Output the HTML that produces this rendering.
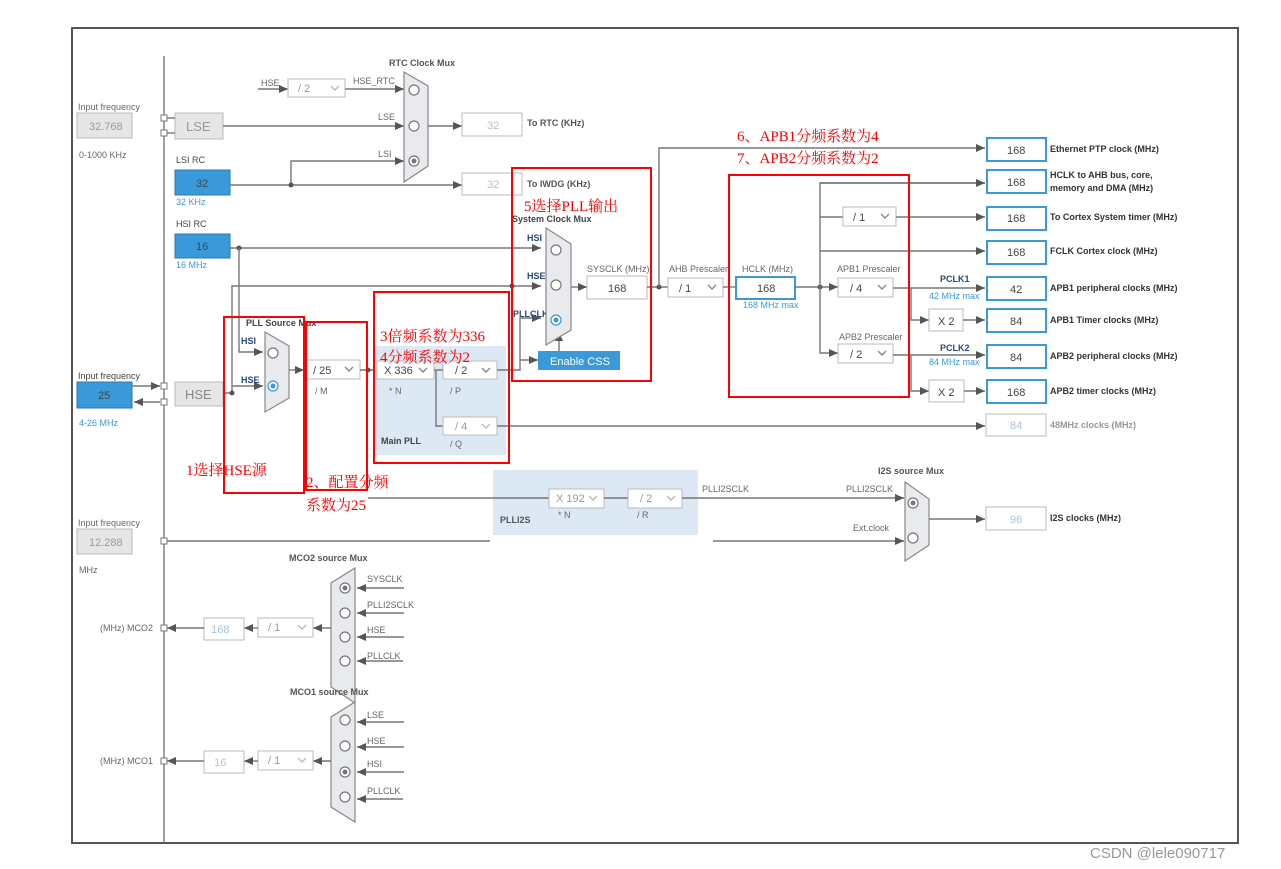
<!DOCTYPE html>
<html><head><meta charset="utf-8"><style>
html,body{margin:0;padding:0;background:#fff;width:1281px;height:869px;overflow:hidden}
svg{display:block}
text{font-family:"Liberation Sans","Noto Sans CJK SC",sans-serif}
.l{font-size:9px;fill:#666}
.b{font-size:9px;fill:#555;font-weight:bold}
.bk{font-size:9px;fill:#333;font-weight:bold}
.v{font-size:11px;fill:#444}
.lv{font-size:11px;fill:#aac4dc}
.bl{font-size:9px;fill:#3a9ad9}
.r{font-family:"Liberation Serif","Noto Serif CJK SC",serif;font-size:15px;fill:#f00}
line,polyline,path.w{stroke:#777;stroke-width:1.4;fill:none}
.dd{fill:#fff;stroke:#bbb}
.bx{fill:#fff;stroke:#bbb}
.bb{fill:#fff;stroke:#3a9ad9;stroke-width:2}
.mux{fill:#e8eaed;stroke:#888;stroke-width:1.2}
.c{fill:#fff;stroke:#777;stroke-width:1.2}
.red{fill:none;stroke:#f00;stroke-width:2}
</style></head><body>
<svg width="1281" height="869" viewBox="0 0 1281 869" xmlns="http://www.w3.org/2000/svg">
<defs>
<marker id="a" markerWidth="9" markerHeight="8" refX="9" refY="4" orient="auto" markerUnits="userSpaceOnUse"><path d="M0,0L9,4L0,8z" fill="#555"/></marker>
</defs>
<rect x="72" y="28" width="1166" height="815" fill="none" stroke="#555" stroke-width="2"/>
<line x1="164" y1="56" x2="164" y2="843"/>

<!-- left inputs -->
<text class="l" x="78" y="110">Input frequency</text>
<rect x="77" y="113" width="55" height="25" fill="#e4e6e8" stroke="#bbb"/>
<text class="v" x="89" y="130" fill="#999" style="fill:#999">32.768</text>
<text class="l" x="79" y="158">0-1000 KHz</text>
<rect x="175" y="113" width="48" height="26" fill="#e4e6e8" stroke="#bbb"/>
<text x="186" y="131" style="font-size:13px;fill:#999">LSE</text>
<rect x="161" y="115" width="6" height="6" fill="#fff" stroke="#777"/>
<rect x="161" y="130" width="6" height="6" fill="#fff" stroke="#777"/>
<line x1="167" y1="118" x2="175" y2="118"/><line x1="167" y1="133" x2="175" y2="133"/>

<text class="l" x="176" y="163" style="fill:#444">LSI RC</text>
<rect x="175" y="170" width="55" height="25" fill="#3a9ad9" stroke="#2a7ab0"/>
<text class="v" x="196" y="187">32</text>
<text class="bl" x="176" y="205">32 KHz</text>
<text class="l" x="176" y="227" style="fill:#444">HSI RC</text>
<rect x="175" y="234" width="55" height="24" fill="#3a9ad9" stroke="#2a7ab0"/>
<text class="v" x="196" y="250">16</text>
<text class="bl" x="176" y="268">16 MHz</text>

<text class="l" x="78" y="379" style="fill:#444">Input frequency</text>
<rect x="77" y="382" width="55" height="26" fill="#3a9ad9" stroke="#2a7ab0"/>
<text class="v" x="98" y="399">25</text>
<text class="bl" x="79" y="426">4-26 MHz</text>
<line x1="132" y1="386" x2="160" y2="386" marker-end="url(#a)"/>
<line x1="160" y1="402" x2="134" y2="402" marker-end="url(#a)"/>
<rect x="161" y="383" width="6" height="6" fill="#fff" stroke="#777"/>
<rect x="161" y="399" width="6" height="6" fill="#fff" stroke="#777"/>
<rect x="175" y="382" width="48" height="24" fill="#e4e6e8" stroke="#bbb"/>
<text x="185" y="399" style="font-size:13px;fill:#888">HSE</text>

<text class="l" x="78" y="526">Input frequency</text>
<rect x="77" y="529" width="55" height="25" fill="#e4e6e8" stroke="#bbb"/>
<text class="v" x="89" y="546" style="fill:#999">12.288</text>
<text class="l" x="79" y="573">MHz</text>

<!-- RTC -->
<text class="b" x="389" y="66">RTC Clock Mux</text>
<text class="l" x="261" y="86">HSE</text>
<line x1="258" y1="89" x2="288" y2="89" marker-end="url(#a)"/>
<rect class="dd" x="288" y="79" width="57" height="18"/><text class="v" x="298" y="92" style="fill:#999">/ 2</text><polyline points="331,86 335,90 339,86" style="stroke:#bbb"/>
<text class="l" x="353" y="84">HSE_RTC</text>
<line x1="345" y1="89" x2="404" y2="89" marker-end="url(#a)"/>
<text class="l" x="378" y="120">LSE</text>
<line x1="223" y1="126" x2="404" y2="126" marker-end="url(#a)"/>
<text class="l" x="378" y="157">LSI</text>
<polyline points="291,185 291,161 404,161" marker-end="url(#a)"/>
<path class="mux" d="M404,72 L428,86 L428,166 L404,182 Z"/>
<circle class="c" cx="414" cy="90" r="5"/><circle class="c" cx="414" cy="126" r="5"/><circle class="c" cx="414" cy="161" r="5"/><circle cx="414" cy="161" r="2.5" fill="#777"/>
<line x1="428" y1="126" x2="462" y2="126" marker-end="url(#a)"/>
<rect class="bx" x="462" y="113" width="60" height="23"/><text class="lv" x="487" y="129">32</text>
<text class="b" x="527" y="126">To RTC (KHz)</text>
<line x1="230" y1="185" x2="462" y2="185" marker-end="url(#a)"/>
<circle cx="291" cy="185" r="2.5" fill="#555"/>
<rect class="bx" x="462" y="173" width="60" height="22"/><text class="lv" x="487" y="188">32</text>
<text class="b" x="527" y="187">To IWDG (KHz)</text>

<!-- HSI / HSE routing -->
<line x1="230" y1="248" x2="541" y2="248" marker-end="url(#a)"/>
<circle cx="239" cy="248" r="2.5" fill="#555"/>
<polyline points="239,248 239,352 263,352" marker-end="url(#a)"/>
<polyline points="223,393 232,393 232,286 541,286" marker-end="url(#a)"/>
<circle cx="232" cy="393" r="2.5" fill="#555"/>
<line x1="232" y1="386" x2="263" y2="386" marker-end="url(#a)"/>
<circle cx="512" cy="286" r="2.5" fill="#555"/>

<!-- PLL source mux -->
<text class="b" x="246" y="326" style="fill:#444">PLL Source Mux</text>
<text class="bk" x="241" y="344" style="fill:#2a4a7a">HSI</text>
<text class="bk" x="241" y="383" style="fill:#2a4a7a">HSE</text>
<path class="mux" d="M265,332 L289,346 L289,398 L265,412 Z"/>
<circle class="c" cx="273" cy="353" r="5"/><circle class="c" cx="273" cy="386" r="5" style="stroke:#3a9ad9"/><circle cx="273" cy="386" r="2.5" fill="#3a9ad9"/>
<line x1="289" y1="370" x2="304" y2="370" marker-end="url(#a)"/>
<rect class="dd" x="304" y="360" width="56" height="19"/><text class="v" x="313" y="374">/ 25</text><polyline points="345,367 349,371 353,367" style="stroke:#888"/>
<text class="l" x="315" y="394">/ M</text>
<line x1="360" y1="370" x2="377" y2="370"/>
<circle cx="368" cy="370" r="2.5" fill="#555"/>

<!-- Main PLL -->
<rect x="375" y="346" width="131" height="109" fill="#dce8f4"/>
<rect class="dd" x="377" y="361" width="57" height="18"/><text class="v" x="384" y="374">X 336</text><polyline points="419,368 423,372 427,368" style="stroke:#888"/>
<text class="l" x="389" y="394">* N</text>
<rect class="dd" x="443" y="361" width="54" height="18"/><text class="v" x="455" y="374">/ 2</text><polyline points="482,368 486,372 490,368" style="stroke:#888"/>
<text class="l" x="450" y="394">/ P</text>
<line x1="434" y1="370" x2="443" y2="370"/>
<polyline points="436,370 436,426 443,426"/>
<rect class="dd" x="443" y="417" width="54" height="18"/><text class="v" x="455" y="430" style="fill:#999">/ 4</text><polyline points="482,424 486,428 490,424" style="stroke:#bbb"/>
<text class="l" x="450" y="447">/ Q</text>
<text class="b" x="381" y="444" style="fill:#444">Main PLL</text>
<line x1="497" y1="426" x2="985" y2="426" marker-end="url(#a)"/>
<rect class="bx" x="986" y="414" width="60" height="22"/><text class="lv" x="1010" y="429">84</text>
<text class="b" x="1050" y="428" style="fill:#999">48MHz clocks (MHz)</text>

<polyline points="497,370 520,370 520,318 541,318" marker-end="url(#a)"/>
<polyline points="520,360 538,360" marker-end="url(#a)"/>
<rect x="538" y="351" width="82" height="19" fill="#3a9ad9"/>
<text x="550" y="365" style="font-size:11px;fill:#fff">Enable CSS</text>
<line x1="559" y1="351" x2="559" y2="332" marker-end="url(#a)"/>

<!-- System clock mux -->
<text class="b" x="512" y="222" style="fill:#444">System Clock Mux</text>
<text class="bk" x="527" y="241" style="fill:#2a4a7a">HSI</text>
<text class="bk" x="527" y="279" style="fill:#2a4a7a">HSE</text>
<text class="bk" x="513" y="317" style="fill:#2a4a7a">PLLCLK</text>
<path class="mux" d="M546,228 L571,244 L571,330 L546,345 Z"/>
<circle class="c" cx="556" cy="250" r="5"/><circle class="c" cx="556" cy="285" r="5"/><circle class="c" cx="556" cy="320" r="5" style="stroke:#3a9ad9"/><circle cx="556" cy="320" r="2.5" fill="#3a9ad9"/>
<line x1="571" y1="287" x2="587" y2="287" marker-end="url(#a)"/>
<text class="l" x="587" y="272">SYSCLK (MHz)</text>
<rect class="bx" x="587" y="276" width="60" height="23"/><text class="v" x="608" y="292">168</text>
<line x1="647" y1="287" x2="668" y2="287"/>
<circle cx="659" cy="287" r="2.5" fill="#555"/>
<polyline points="659,287 659,148 985,148" marker-end="url(#a)"/>
<text class="l" x="669" y="272">AHB Prescaler</text>
<rect class="dd" x="668" y="278" width="55" height="19"/><text class="v" x="679" y="292">/ 1</text><polyline points="708,285 712,289 716,285" style="stroke:#888"/>
<line x1="723" y1="287" x2="736" y2="287"/>
<text class="l" x="742" y="272">HCLK (MHz)</text>
<rect class="bb" x="736" y="277" width="59" height="22"/><text class="v" x="757" y="292">168</text>
<text class="bl" x="743" y="308">168 MHz max</text>
<line x1="795" y1="287" x2="838" y2="287" marker-end="url(#a)"/>
<circle cx="820" cy="287" r="2.5" fill="#555"/>
<polyline points="985,183 820,183 820,353 838,353" marker-end="url(#a)"/>
<line x1="820" y1="183" x2="985" y2="183" marker-end="url(#a)"/>
<line x1="820" y1="217" x2="843" y2="217"/>
<rect class="dd" x="843" y="207" width="53" height="19"/><text class="v" x="853" y="221">/ 1</text><polyline points="881,214 885,218 889,214" style="stroke:#888"/>
<line x1="896" y1="217" x2="985" y2="217" marker-end="url(#a)"/>
<line x1="820" y1="251" x2="985" y2="251" marker-end="url(#a)"/>
<text class="l" x="837" y="272">APB1 Prescaler</text>
<rect class="dd" x="838" y="278" width="55" height="19"/><text class="v" x="850" y="292">/ 4</text><polyline points="878,285 882,289 886,285" style="stroke:#888"/>
<text class="l" x="839" y="340">APB2 Prescaler</text>
<rect class="dd" x="838" y="344" width="55" height="19"/><text class="v" x="850" y="358">/ 2</text><polyline points="878,351 882,355 886,351" style="stroke:#888"/>
<line x1="893" y1="288" x2="985" y2="288" marker-end="url(#a)"/>
<text class="bk" x="940" y="282" style="fill:#2a4a7a">PCLK1</text>
<text class="bl" x="929" y="299">42 MHz max</text>
<polyline points="911,288 911,320 929,320" marker-end="url(#a)"/>
<rect class="bx" x="929" y="309" width="34" height="22"/><text class="v" x="938" y="325">X 2</text>
<line x1="963" y1="320" x2="985" y2="320" marker-end="url(#a)"/>
<line x1="893" y1="355" x2="985" y2="355" marker-end="url(#a)"/>
<text class="bk" x="940" y="351" style="fill:#2a4a7a">PCLK2</text>
<text class="bl" x="929" y="365">84 MHz max</text>
<polyline points="911,355 911,391 929,391" marker-end="url(#a)"/>
<rect class="bx" x="929" y="380" width="35" height="22"/><text class="v" x="938" y="396">X 2</text>
<line x1="964" y1="391" x2="985" y2="391" marker-end="url(#a)"/>

<!-- right outputs -->
<rect class="bb" x="987" y="138" width="59" height="23"/><text class="v" x="1007" y="154">168</text>
<text class="b" x="1050" y="152" style="fill:#333">Ethernet PTP clock (MHz)</text>
<rect class="bb" x="987" y="170" width="59" height="23"/><text class="v" x="1007" y="186">168</text>
<text class="b" x="1050" y="178" style="fill:#333">HCLK to AHB bus, core,</text>
<text class="b" x="1050" y="191" style="fill:#333">memory and DMA (MHz)</text>
<rect class="bb" x="987" y="207" width="59" height="23"/><text class="v" x="1007" y="222">168</text>
<text class="b" x="1050" y="220" style="fill:#333">To Cortex System timer (MHz)</text>
<rect class="bb" x="987" y="241" width="59" height="23"/><text class="v" x="1007" y="256">168</text>
<text class="b" x="1050" y="254" style="fill:#333">FCLK Cortex clock (MHz)</text>
<rect class="bb" x="987" y="277" width="59" height="23"/><text class="v" x="1010" y="293">42</text>
<text class="b" x="1050" y="291" style="fill:#333">APB1 peripheral clocks (MHz)</text>
<rect class="bb" x="987" y="309" width="59" height="23"/><text class="v" x="1010" y="325">84</text>
<text class="b" x="1050" y="323" style="fill:#333">APB1 Timer clocks (MHz)</text>
<rect class="bb" x="987" y="345" width="59" height="23"/><text class="v" x="1010" y="361">84</text>
<text class="b" x="1050" y="359" style="fill:#333">APB2 peripheral clocks (MHz)</text>
<rect class="bb" x="987" y="380" width="59" height="23"/><text class="v" x="1007" y="396">168</text>
<text class="b" x="1050" y="394" style="fill:#333">APB2 timer clocks (MHz)</text>

<!-- PLLI2S -->
<rect x="493" y="470" width="205" height="65" fill="#dce8f4"/>
<line x1="368" y1="498" x2="549" y2="498"/>
<rect class="dd" x="549" y="489" width="55" height="19"/><text class="v" x="556" y="502" style="fill:#999">X 192</text><polyline points="589,496 593,500 597,496" style="stroke:#bbb"/>
<text class="l" x="558" y="518">* N</text>
<line x1="604" y1="498" x2="628" y2="498"/>
<rect class="dd" x="628" y="489" width="54" height="19"/><text class="v" x="640" y="502" style="fill:#999">/ 2</text><polyline points="667,496 671,500 675,496" style="stroke:#bbb"/>
<text class="l" x="637" y="518">/ R</text>
<text class="b" x="500" y="523">PLLI2S</text>
<line x1="682" y1="498" x2="904" y2="498" marker-end="url(#a)"/>
<text class="l" x="702" y="492">PLLI2SCLK</text>
<text class="l" x="846" y="492">PLLI2SCLK</text>
<text class="b" x="878" y="474">I2S source Mux</text>
<text class="l" x="853" y="531">Ext.clock</text>
<line x1="713" y1="541" x2="904" y2="541" marker-end="url(#a)"/>
<line x1="164" y1="541" x2="490" y2="541"/>
<rect x="161" y="538" width="6" height="6" fill="#fff" stroke="#777"/>
<path class="mux" d="M905,482 L929,499 L929,545 L905,561 Z"/>
<circle class="c" cx="913" cy="503" r="5"/><circle cx="913" cy="503" r="2.5" fill="#777"/><circle class="c" cx="913" cy="538" r="5"/>
<line x1="929" y1="519" x2="985" y2="519" marker-end="url(#a)"/>
<rect class="bx" x="986" y="507" width="60" height="23"/><text class="lv" x="1010" y="523">96</text>
<text class="b" x="1050" y="521" style="fill:#333">I2S clocks (MHz)</text>

<!-- MCO2 -->
<text class="b" x="289" y="561">MCO2 source Mux</text>
<path class="mux" d="M355,568 L355,703 L331,687 L331,583 Z"/>
<circle class="c" cx="345" cy="588" r="5"/><circle cx="345" cy="588" r="2.5" fill="#777"/>
<circle class="c" cx="345" cy="613" r="5"/><circle class="c" cx="345" cy="637" r="5"/><circle class="c" cx="345" cy="661" r="5"/>
<text class="l" x="367" y="582">SYSCLK</text><line x1="404" y1="588" x2="357" y2="588" marker-end="url(#a)"/>
<text class="l" x="367" y="608">PLLI2SCLK</text><line x1="404" y1="613" x2="357" y2="613" marker-end="url(#a)"/>
<text class="l" x="367" y="633">HSE</text><line x1="404" y1="637" x2="357" y2="637" marker-end="url(#a)"/>
<text class="l" x="367" y="659">PLLCLK</text><line x1="403" y1="661" x2="357" y2="661" marker-end="url(#a)"/>
<line x1="331" y1="628" x2="313" y2="628" marker-end="url(#a)"/>
<rect class="dd" x="258" y="618" width="55" height="19"/><text class="v" x="268" y="631" style="fill:#999">/ 1</text><polyline points="298,625 302,629 306,625" style="stroke:#bbb"/>
<line x1="258" y1="628" x2="244" y2="628" marker-end="url(#a)"/>
<rect class="bx" x="204" y="618" width="40" height="22"/><text class="lv" x="205" y="633" style="font-size:11px">&#160;&#160;168</text>
<line x1="204" y1="628" x2="167" y2="628" marker-end="url(#a)"/>
<rect x="161" y="625" width="6" height="6" fill="#fff" stroke="#777"/>
<text class="l" x="100" y="631">(MHz) MCO2</text>

<!-- MCO1 -->
<text class="b" x="290" y="695">MCO1 source Mux</text>
<path class="mux" d="M355,702 L355,822 L331,807 L331,717 Z"/>
<circle class="c" cx="345" cy="720" r="5"/><circle class="c" cx="345" cy="746" r="5"/>
<circle class="c" cx="345" cy="772" r="5"/><circle cx="345" cy="772" r="2.5" fill="#777"/><circle class="c" cx="345" cy="797" r="5"/>
<text class="l" x="367" y="718">LSE</text><line x1="404" y1="722" x2="357" y2="722" marker-end="url(#a)"/>
<text class="l" x="367" y="744">HSE</text><line x1="404" y1="747" x2="357" y2="747" marker-end="url(#a)"/>
<text class="l" x="367" y="767">HSI</text><line x1="404" y1="772" x2="357" y2="772" marker-end="url(#a)"/>
<text class="l" x="367" y="794">PLLCLK</text><line x1="403" y1="799" x2="357" y2="799" marker-end="url(#a)"/>
<line x1="331" y1="761" x2="313" y2="761" marker-end="url(#a)"/>
<rect class="dd" x="258" y="751" width="55" height="19"/><text class="v" x="268" y="764" style="fill:#999">/ 1</text><polyline points="298,758 302,762 306,758" style="stroke:#bbb"/>
<line x1="258" y1="761" x2="244" y2="761" marker-end="url(#a)"/>
<rect class="bx" x="204" y="751" width="40" height="22"/><text class="lv" x="208" y="766">&#160;&#160;16</text>
<line x1="204" y1="761" x2="167" y2="761" marker-end="url(#a)"/>
<rect x="161" y="758" width="6" height="6" fill="#fff" stroke="#777"/>
<text class="l" x="100" y="764">(MHz) MCO1</text>

<!-- red annotations -->
<rect class="red" x="224" y="317" width="80" height="176"/>
<rect class="red" x="306" y="322" width="61" height="168"/>
<rect class="red" x="374" y="292" width="135" height="171"/>
<rect class="red" x="512" y="168" width="139" height="213"/>
<rect class="red" x="729" y="175" width="180" height="222"/>
<text class="r" x="524" y="211">5选择PLL输出</text>
<text class="r" x="380" y="341">3倍频系数为336</text>
<text class="r" x="380" y="362">4分频系数为2</text>
<text class="r" x="186" y="475">1选择HSE源</text>
<text class="r" x="306" y="487">2、配置分频</text>
<text class="r" x="306" y="510">系数为25</text>
<text class="r" x="737" y="141">6、APB1分频系数为4</text>
<text class="r" x="737" y="163">7、APB2分频系数为2</text>

<text x="1090" y="858" style="font-size:15px;fill:#999">CSDN @lele090717</text>
</svg>
</body></html>
